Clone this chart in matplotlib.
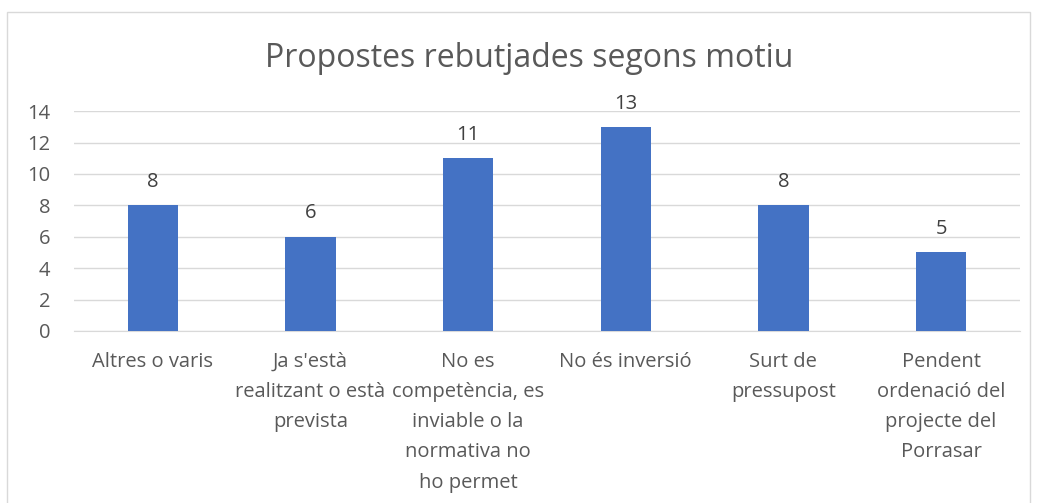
import matplotlib.pyplot as plt
from matplotlib.patches import Rectangle

plt.rcParams['font.family'] = ['Open Sans', 'DejaVu Sans']

# data
categories = [
    "Altres o varis",
    "Ja s'està\nrealitzant o està\nprevista",
    "No es\ncompetència, es\ninviable o la\nnormativa no\nho permet",
    "No és inversió",
    "Surt de\npressupost",
    "Pendent\nordenació del\nprojecte del\nPorrasar",
]
values = [8, 6, 11, 13, 8, 5]
y_ticks = [0, 2, 4, 6, 8, 10, 12, 14]

text_color = '#595959'

fig = plt.figure(figsize=(10.59, 5.03), dpi=100)
ax = fig.add_axes([0.07, 0.342, 0.893, 0.437])

# chart border
fig.patches.append(Rectangle((7 / 1059, -0.05), 1023 / 1059, 1 - 12 / 503 + 0.05,
                             transform=fig.transFigure, fill=False,
                             edgecolor='#D9D9D9', linewidth=1))

x = range(len(categories))
bars = ax.bar(x, values, width=0.32, color='#4472C4', zorder=3)
for rect, v in zip(bars, values):
    ax.text(rect.get_x() + rect.get_width() / 2, v + 0.85, str(v),
            ha='center', va='bottom', fontsize=14.5, color='#404040')

ax.set_xlim(-0.5, len(categories) - 0.5)
ax.set_ylim(0, 14)
ax.set_yticks(y_ticks)
ax.set_xticks(list(x))
ax.set_xticklabels(categories, fontsize=14.5, color=text_color, linespacing=1.68)
ax.tick_params(axis='y', labelsize=14.5, labelcolor=text_color, length=0, pad=17)
ax.tick_params(axis='x', length=0, pad=15)

ax.yaxis.grid(True, color='#D9D9D9', linewidth=1, zorder=0)
for s in ['top', 'right', 'left']:
    ax.spines[s].set_visible(False)
ax.spines['bottom'].set_color('#D9D9D9')

fig.text(0.5, 0.884, 'Propostes rebutjades segons motiu', ha='center', va='center',
         fontsize=23, color=text_color)

fig.savefig('out.png', dpi=100)
